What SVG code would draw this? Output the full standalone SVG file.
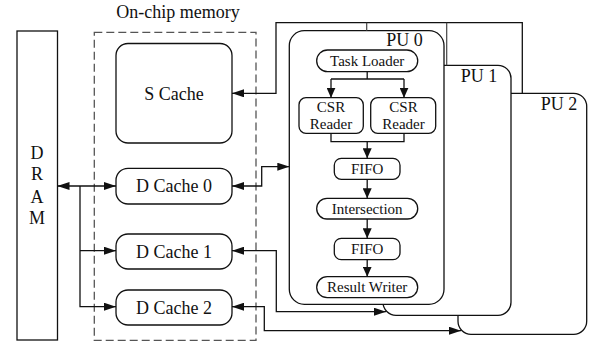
<svg xmlns="http://www.w3.org/2000/svg" width="589" height="342" viewBox="0 0 589 342">
<style>
  text { font-family: "Liberation Serif", "Times New Roman", serif; fill: #111; text-anchor: middle; }
  .big { font-size: 18px; }
  .sm { font-size: 15px; }
  .box { fill: #fff; stroke: #111; stroke-width: 1.3; }
  .ln { fill: none; stroke: #111; stroke-width: 1.3; }
  .ln2 { fill: none; stroke: #444; stroke-width: 1.2; }
</style>
<defs>
  <marker id="ah" viewBox="0 0 12 8" refX="12" refY="4" markerWidth="12" markerHeight="8" markerUnits="userSpaceOnUse" orient="auto-start-reverse">
    <path d="M0,0 L12,4 L0,8 z" fill="#111"/>
  </marker>
  <marker id="as" viewBox="0 0 10 9" refX="10" refY="4.5" markerWidth="10" markerHeight="9" markerUnits="userSpaceOnUse" orient="auto">
    <path d="M0,0 L10,4.5 L0,9 z" fill="#111"/>
  </marker>
</defs>

<g id="dram">
  <rect class="box" x="17" y="31" width="40.5" height="309"/>
  <text class="big" x="37" y="158.5">D</text>
  <text class="big" x="37" y="180">R</text>
  <text class="big" x="37" y="202.5">A</text>
  <text class="big" x="37" y="224">M</text>
</g>

<g id="onchip">
  <rect x="94.3" y="32.3" width="161.7" height="308" fill="none" stroke="#555" stroke-width="1.3" stroke-dasharray="8,4"/>
  <text class="big" x="178" y="17.5">On-chip memory</text>
</g>

<g id="scache">
  <rect class="box" x="116" y="43.5" width="116" height="99.5" rx="12"/>
  <text class="big" x="174" y="99.5">S Cache</text>
</g>
<g id="dcache0">
  <rect class="box" x="116" y="168.3" width="116" height="35.7" rx="12"/>
  <text class="big" x="174" y="192">D Cache 0</text>
</g>
<g id="dcache1">
  <rect class="box" x="116" y="234" width="116" height="35" rx="12"/>
  <text class="big" x="174" y="257.5">D Cache 1</text>
</g>
<g id="dcache2">
  <rect class="box" x="116" y="290" width="116" height="35" rx="12"/>
  <text class="big" x="174" y="313.5">D Cache 2</text>
</g>

<g id="pu2">
  <rect class="box" x="458" y="93.3" width="128.7" height="241" rx="13"/>
  <text class="big" x="559" y="110">PU 2</text>
</g>
<g id="pu1">
  <rect class="box" x="383" y="65.3" width="128" height="250" rx="13"/>
  <text class="big" x="479" y="81.7">PU 1</text>
</g>
<g id="pu0">
  <rect class="box" x="289.3" y="30.7" width="154.7" height="273.6" rx="15"/>
  <text class="big" x="404.5" y="45.5">PU 0</text>
</g>

<g id="taskloader">
  <rect class="box" x="316.7" y="50" width="101" height="21.7" rx="10.8"/>
  <text class="sm" x="367.2" y="66">Task Loader</text>
</g>
<g id="csr0">
  <rect class="box" x="299" y="97.7" width="64.3" height="35.6" rx="7"/>
  <text class="sm" x="331" y="111.7">CSR</text>
  <text class="sm" x="331" y="129.3">Reader</text>
</g>
<g id="csr1">
  <rect class="box" x="370.7" y="97.7" width="65" height="35.6" rx="7"/>
  <text class="sm" x="403.5" y="111.7">CSR</text>
  <text class="sm" x="403.5" y="129.3">Reader</text>
</g>
<g id="fifo0">
  <rect class="box" x="334.3" y="158.3" width="65.7" height="21" rx="7"/>
  <text class="sm" x="367.2" y="174">FIFO</text>
</g>
<g id="intersection">
  <rect class="box" x="316.7" y="198.3" width="101" height="20.7" rx="10.3"/>
  <text class="sm" x="367.2" y="214">Intersection</text>
</g>
<g id="fifo1">
  <rect class="box" x="334.3" y="238.3" width="65.7" height="21.4" rx="7"/>
  <text class="sm" x="367.2" y="254.2">FIFO</text>
</g>
<g id="resultwriter">
  <rect class="box" x="316.7" y="276.7" width="101" height="21" rx="10.5"/>
  <text class="sm" x="367.2" y="292.2">Result Writer</text>
</g>

<g id="connectors">
  <!-- DRAM <-> D caches -->
  <path class="ln" d="M57.5,186 L116,186" marker-start="url(#ah)" marker-end="url(#ah)"/>
  <path class="ln" d="M80,186 L80,306.7 L116,306.7" marker-end="url(#ah)"/>
  <path class="ln" d="M80,250.7 L116,250.7" marker-end="url(#ah)"/>
  <!-- S Cache <- PUs -->
  <path class="ln" d="M522.3,93.3 L522.3,22.7 L276,22.7 L276,93.3 L232,93.3" marker-end="url(#ah)"/>
  <path class="ln2" d="M366.7,22.7 L366.7,30.7"/>
  <path class="ln2" d="M446.7,22.7 L446.7,65.3"/>
  <!-- D Cache 0 <-> PU0 -->
  <path class="ln" d="M232,186 L261.7,186 L261.7,166.7 L289.3,166.7" marker-start="url(#ah)" marker-end="url(#ah)"/>
  <!-- D Cache 1 <-> PU1 -->
  <path class="ln" d="M232,250.7 L276.3,250.7 L276.3,311.7 L386,311.7" marker-start="url(#ah)" marker-end="url(#ah)"/>
  <!-- D Cache 2 <-> PU2 -->
  <path class="ln" d="M232,306.7 L264.3,306.7 L264.3,330.7 L461,330.7" marker-start="url(#ah)" marker-end="url(#ah)"/>
  <!-- inside PU0 -->
  <path class="ln" d="M367.2,71.7 L367.2,79"/>
  <path class="ln" d="M331,79 L404,79"/>
  <path class="ln" d="M331,79 L331,97.7" marker-end="url(#as)"/>
  <path class="ln" d="M404,79 L404,97.7" marker-end="url(#as)"/>
  <path class="ln" d="M331,133.3 L331,141.7 L404,141.7 L404,133.3"/>
  <path class="ln" d="M367.2,141.7 L367.2,158.3" marker-end="url(#as)"/>
  <path class="ln" d="M367.2,179.3 L367.2,198.3" marker-end="url(#as)"/>
  <path class="ln" d="M367.2,219 L367.2,238.3" marker-end="url(#as)"/>
  <path class="ln" d="M367.2,259.7 L367.2,276.7" marker-end="url(#as)"/>
</g>
</svg>
